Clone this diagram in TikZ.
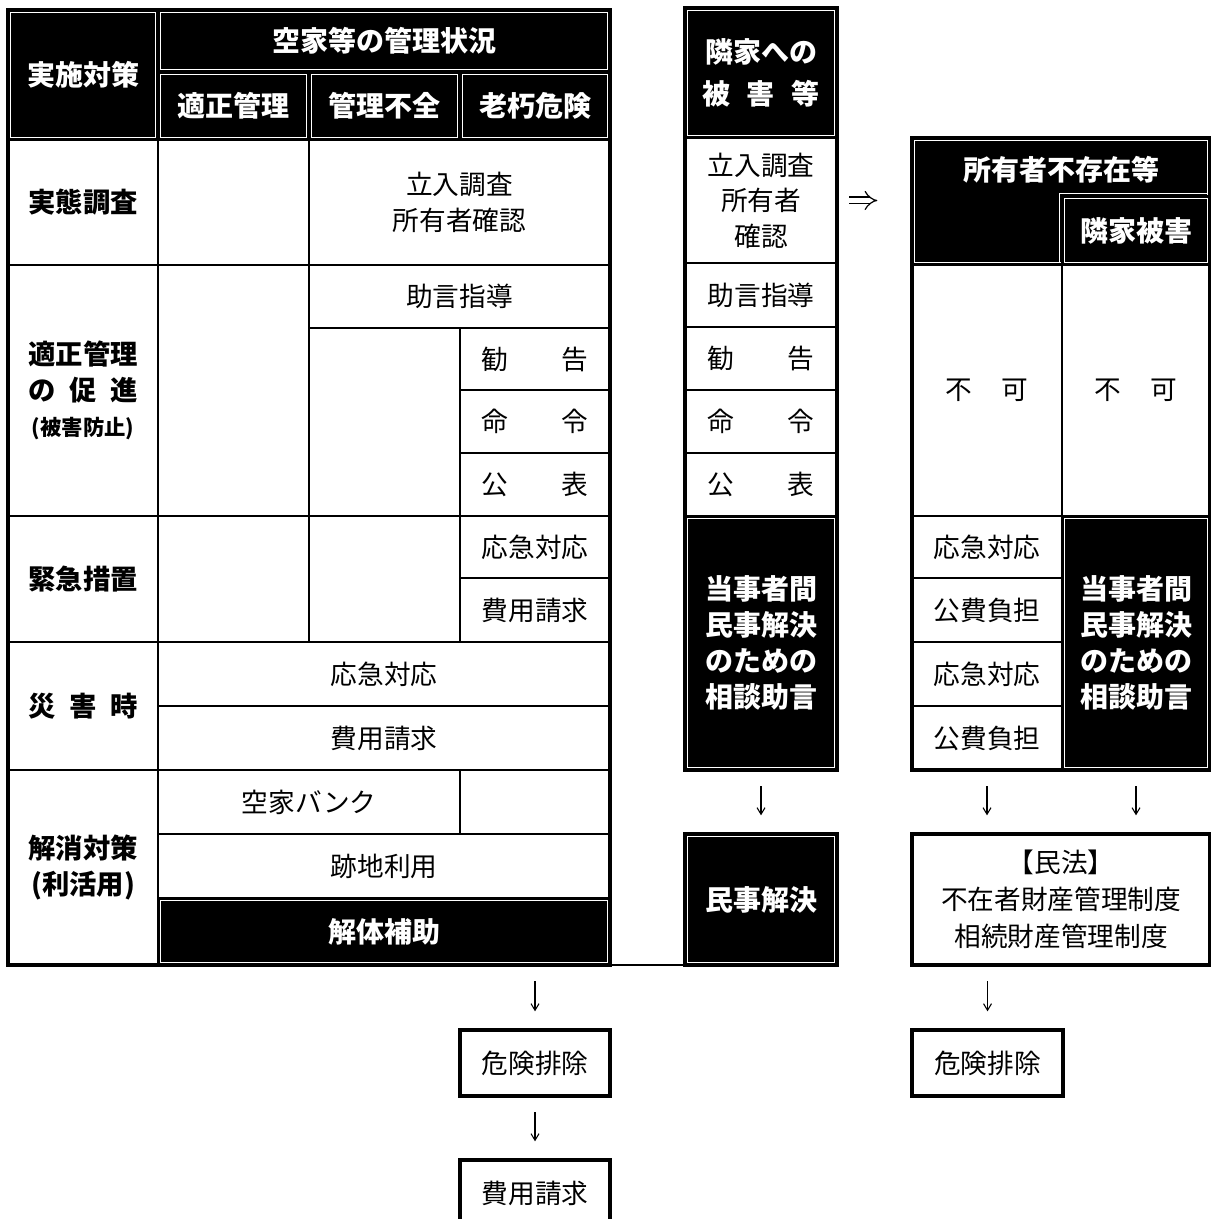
\documentclass[tikz,border=0pt]{standalone}
\usepackage{fontspec}
\usetikzlibrary{arrows.meta}
\newfontfamily\goth{Noto Sans CJK JP}
\IfFontExistsTF{IPAexMincho}{\newfontfamily\minc{IPAexMincho}}{%
  \IfFontExistsTF{ipaexm.ttf}{\newfontfamily\minc{ipaexm.ttf}}{\newfontfamily\minc{Noto Sans CJK JP}}}
\newcommand\bodyfont{\minc\fontsize{20}{26.6}\selectfont}
\newcommand\gothfont{\goth\fontsize{20}{26.6}\selectfont}
\newcommand\labfont{\goth\bfseries\fontsize{20.5}{26.4}\selectfont}
\newcommand\hdfont{\goth\bfseries\fontsize{21}{27}\selectfont}
\tikzset{
  cellst/.style={draw=black, line width=1pt, inner sep=0pt, outer sep=0pt, align=center, font=\bodyfont},
  blkst/.style={cellst, fill=black, text=white, font=\hdfont},
  framest/.style={draw=black, line width=2.3pt},
  inset/.style={draw=white, line width=0.9pt},
  arr/.style={line width=0.8pt, -{Straight Barb[length=5pt,width=6pt]}, shorten <=12pt, shorten >=14pt},
  dbl/.style={double, double distance=4.2pt, line width=0.9pt, -{Implies[length=6pt]}, shorten <=9pt, shorten >=26pt}
}
\newcommand\mkcell[7][]{\node[cellst,minimum width={(#5-#3)*0.75pt},minimum height={(#6-#4)*0.75pt},#1] (#2) at ({(#3+#5)/2},{(#4+#6)/2}) {#7};}
\newcommand\mkblk[7][]{\node[blkst,minimum width={(#5-#3)*0.75pt},minimum height={(#6-#4)*0.75pt},#1] (#2) at ({(#3+#5)/2},{(#4+#6)/2}) {#7};
  \draw[inset] ([shift={(2.5,2.5)}]#2.north west) rectangle ([shift={(-2.5,-2.5)}]#2.south east);}
\begin{document}
\begin{tikzpicture}[x=0.75pt,y=-0.75pt]
\useasboundingbox[fill=white] (0,0) rectangle (1210,1219);
% ---------- left table ----------
\mkblk{hA}{8}{10}{158}{140}{実施対策}
\mkblk{hB}{158}{10}{610}{72}{空家等の管理状況}
\mkblk{hC1}{158}{72}{309}{140}{適正管理}
\mkblk{hC2}{309}{72}{460}{140}{管理不全}
\mkblk{hC3}{460}{72}{610}{140}{老朽危険}
% row 1
\mkcell[font=\labfont]{l1}{8}{140}{158}{265}{実態調査}
\mkcell{e11}{158}{140}{309}{265}{}
\mkcell{c1}{309}{140}{610}{265}{立入調査\\所有者確認}
% row 2
\mkcell[font=\labfont]{l2}{8}{265}{158}{516}{適正管理\\\makebox[4em]{の\hfill 促\hfill 進}\\{\fontsize{16}{26}\selectfont (被害防止)}}
\mkcell{e21}{158}{265}{309}{516}{}
\mkcell[font=\gothfont]{c21}{309}{265}{610}{328}{助言指導}
\mkcell{e22}{309}{328}{460}{516}{}
\mkcell{c22}{460}{328}{610}{390}{\makebox[4em]{勧\hfill 告}}
\mkcell{c23}{460}{390}{610}{453}{\makebox[4em]{命\hfill 令}}
\mkcell{c24}{460}{453}{610}{516}{\makebox[4em]{公\hfill 表}}
% row 3
\mkcell[font=\labfont]{l3}{8}{516}{158}{642}{緊急措置}
\mkcell{e31}{158}{516}{309}{642}{}
\mkcell{e32}{309}{516}{460}{642}{}
\mkcell[font=\gothfont]{c31}{460}{516}{610}{578}{応急対応}
\mkcell[font=\gothfont]{c32}{460}{578}{610}{642}{費用請求}
% row 4
\mkcell[font=\labfont]{l4}{8}{642}{158}{770}{\makebox[4em]{災\hfill 害\hfill 時}}
\mkcell[font=\gothfont]{c41}{158}{642}{610}{706}{応急対応}
\mkcell[font=\gothfont]{c42}{158}{706}{610}{770}{費用請求}
% row 5
\mkcell[font=\labfont]{l5}{8}{770}{158}{965}{解消対策\\(利活用)}
\mkcell[font=\gothfont]{c51}{158}{770}{460}{834}{空家バンク}
\mkcell{e51}{460}{770}{610}{834}{}
\mkcell[font=\gothfont]{c52}{158}{834}{610}{898}{跡地利用}
\mkblk{c53}{158}{898}{610}{965}{解体補助}
\mkcell[framest]{Lf}{8}{10}{610}{965}{}
% ---------- middle column ----------
\mkblk{mh}{685}{8}{837}{138}{隣家への\\[4pt]\makebox[4.2em]{被\hfill 害\hfill 等}}
\mkcell{m1}{685}{138}{837}{263}{立入調査\\所有者\\確認}
\mkcell[font=\gothfont]{m2}{685}{263}{837}{327}{助言指導}
\mkcell{m3}{685}{327}{837}{390}{\makebox[4em]{勧\hfill 告}}
\mkcell{m4}{685}{390}{837}{453}{\makebox[4em]{命\hfill 令}}
\mkcell{m5}{685}{453}{837}{516}{\makebox[4em]{公\hfill 表}}
\mkblk{m6}{685}{516}{837}{770}{当事者間\\民事解決\\のための\\相談助言}
\mkcell[framest]{Mf}{685}{8}{837}{770}{}
\mkblk{mm}{685}{834}{837}{965}{民事解決}
\mkcell[framest]{Mmf}{685}{834}{837}{965}{}
\draw[line width=1.5pt] (Lf.south east) -- (mm.south west);
% ---------- right table ----------
\mkblk{rh}{912}{138}{1210}{265}{}
\node[text=white, font=\hdfont] (rht) at (1061,170) {所有者不存在等};
\mkblk{rh2}{1062}{196}{1210}{265}{隣家被害}
\draw[inset] ([shift={(-2.5,-2.5)}]rh2.south west) |- ([shift={(-2.5,-2.5)}]rh2.north east);
\mkcell{ra1}{912}{265}{1062}{516}{\makebox[3.1em]{不\hfill 可}}
\mkcell{rb1}{1062}{265}{1210}{516}{\makebox[3.1em]{不\hfill 可}}
\mkcell{ra2}{912}{516}{1062}{578}{応急対応}
\mkcell{ra3}{912}{578}{1062}{642}{公費負担}
\mkcell{ra4}{912}{642}{1062}{706}{応急対応}
\mkcell{ra5}{912}{706}{1062}{770}{公費負担}
\mkblk{rb2}{1062}{516}{1210}{770}{当事者間\\民事解決\\のための\\相談助言}
\mkcell[framest]{Rf}{912}{138}{1210}{770}{}
\mkcell[framest, font={\minc\fontsize{20}{27.6}\selectfont}]{rm}{912}{834}{1210}{965}{【民法】\\不在者財産管理制度\\相続財産管理制度}
\mkcell[framest, font=\gothfont]{rk}{912}{1030}{1063}{1096}{危険排除}
% ---------- bottom left ----------
\mkcell[framest, font=\gothfont]{lk}{460}{1030}{610}{1096}{危険排除}
\mkcell[framest, font=\gothfont]{lh}{460}{1160}{610}{1226}{費用請求}
% ---------- connectors ----------
\draw[dbl] (m1.east) -- (m1.east -| Rf.west);
\draw[arr] (m6.south) -- (mm.north);
\draw[arr] (ra5.south) -- (ra5.south |- rm.north);
\draw[arr] (rb2.south) -- (rb2.south |- rm.north);
\draw[arr] (rk.north |- rm.south) -- (rk.north);
\draw[arr] (lk.north |- Lf.south) -- (lk.north);
\draw[arr] (lk.south) -- (lh.north);
\end{tikzpicture}
\end{document}
